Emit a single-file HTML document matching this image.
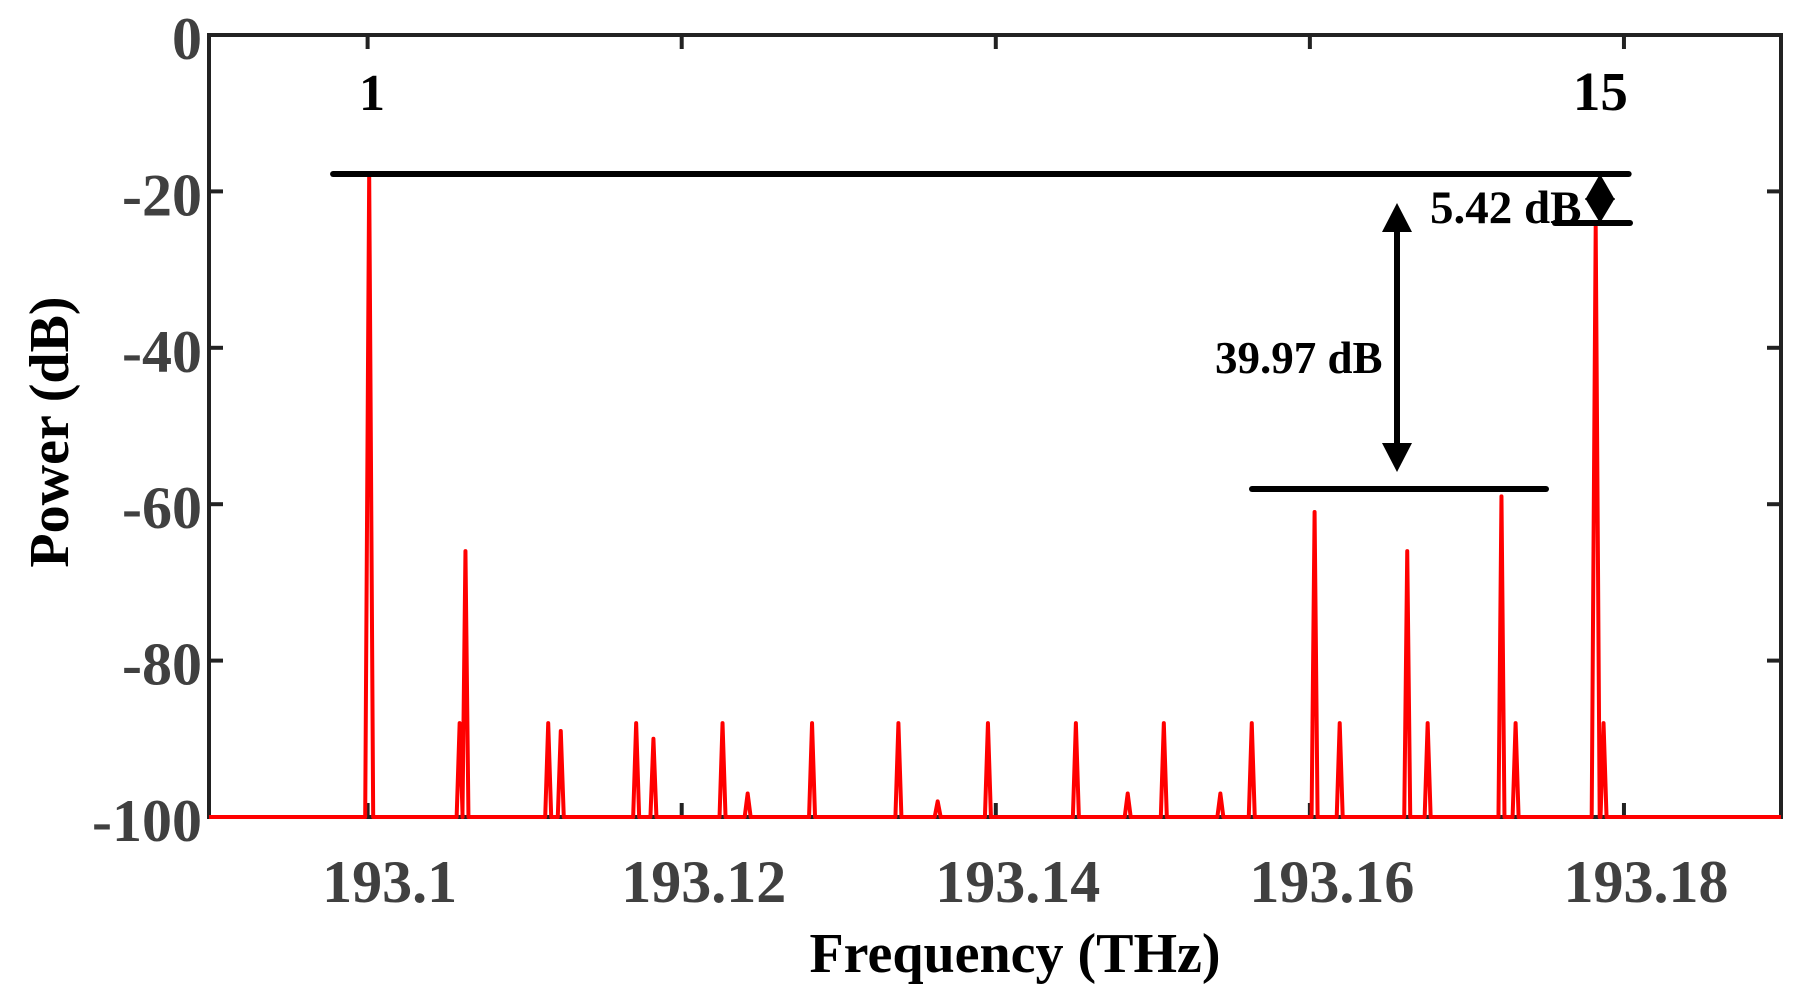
<!DOCTYPE html>
<html><head><meta charset="utf-8"><style>
html,body{margin:0;padding:0;background:#fff;}
svg{display:block;font-family:"Liberation Serif",serif;font-weight:bold;}
</style></head><body>
<svg id="chart" width="1805" height="1004" viewBox="0 0 1805 1004" xmlns="http://www.w3.org/2000/svg"></svg>
<script>
// data
const peakFreqs = [193.1001,193.10586,193.10623,193.1115,193.1123,193.1171,193.1182,193.1226,193.1242,193.1283,193.1303,193.1338,193.1363,193.1395,193.1451,193.1484,193.1507,193.1543,193.1563,193.1603,193.1619,193.1662,193.1675,193.1722,193.1731,193.1782,193.1787];
const peakPowers = [-17.9,-88,-66,-88,-89,-88,-90,-88,-97,-88,-100,-88,-98,-88,-88,-97,-88,-97,-88,-61,-88,-66,-88,-59,-88,-24.5,-88];
const xTicks = [193.1,193.12,193.14,193.16,193.18];
const xTickLabels = ["193.1","193.12","193.14","193.16","193.18"];
const yTicks = [0,-20,-40,-60,-80,-100];
const yTickLabels = ["0","-20","-40","-60","-80","-100"];

const NS="http://www.w3.org/2000/svg";
const svg=document.getElementById('chart');
const L=209,R=1781,T=35,B=817;
const xMin=193.0899,xMax=193.19,yMin=-100,yMax=0;
const xs=f=>L+(f-xMin)/(xMax-xMin)*(R-L);
const ys=v=>T+(yMax-v)/(yMax-yMin)*(B-T);
function mk(tag,attrs){const e=document.createElementNS(NS,tag);for(const k in attrs)e.setAttribute(k,attrs[k]);svg.appendChild(e);return e;}

// frame
let fr=mk('rect',{x:L,y:T,width:R-L,height:B-T,fill:'none',stroke:'#222',"stroke-width":4});



// ticks
xTicks.forEach((t,i)=>{
  const x=xs(t);
  let a=mk('line',{x1:x,y1:B,x2:x,y2:B-14,stroke:'#222',"stroke-width":4});
  
  
  let b=mk('line',{x1:x,y1:T,x2:x,y2:T+14,stroke:'#222',"stroke-width":4});
  
  
  let tx=mk('text',{x:x+22,y:902,"text-anchor":"middle","font-size":60,fill:'#404040'});
  tx.textContent=xTickLabels[i];
  
  
});
yTicks.forEach((t,i)=>{
  const y=ys(t);
  let a=mk('line',{x1:L,y1:y,x2:L+14,y2:y,stroke:'#222',"stroke-width":4});
  
  
  let b=mk('line',{x1:R,y1:y,x2:R-14,y2:y,stroke:'#222',"stroke-width":4});
  
  
  let tx=mk('text',{x:202,y:y+24,"text-anchor":"end","font-size":60,fill:'#404040'});
  tx.textContent=yTickLabels[i];
  
  
});

// spectrum
let d='M'+L+','+ys(-100);
const idx=peakFreqs.map((f,i)=>i).sort((a,b)=>peakFreqs[a]-peakFreqs[b]);
idx.forEach(i=>{
  const x=xs(peakFreqs[i]);
  const w=peakPowers[i]>-50?4:3;
  d+=' L'+(x-w)+','+ys(-100)+' L'+x+','+ys(peakPowers[i])+' L'+(x+w)+','+ys(-100);
});
d+=' L'+R+','+ys(-100);
let sp=mk('path',{d:d,fill:'none',stroke:'#ff0000',"stroke-width":4,"stroke-linejoin":"round"});



// annotations
function line(x1,y1,x2,y2,name){let l=mk('line',{x1:x1,y1:y1,x2:x2,y2:y2,stroke:'#000',"stroke-width":6,"stroke-linecap":"round"});return l;}
line(xs(193.0978),174,xs(193.1803),174,'reference-line-top');
line(1252,489,1546,489,'reference-line-sidebands');
line(1555,223,1630,223,'reference-line-carrier15');
// big arrow
line(1397,230,1397,445,'arrow-39-97-shaft');
let ah1=mk('polygon',{points:'1382,232 1412,232 1397,203',fill:'#000'});


let ah2=mk('polygon',{points:'1382,443 1412,443 1397,472',fill:'#000'});


// small arrow
let s1=mk('polygon',{points:'1585,200 1615,200 1600,174',fill:'#000'});


let s2=mk('polygon',{points:'1585,198 1615,198 1600,223',fill:'#000'});



function txt(x,y,s,size,name,anchor,fill){let t=mk('text',{x:x,y:y,"font-size":size,fill:fill||'#000',"text-anchor":anchor||'start'});t.textContent=s;return t;}
txt(1430,223,'5.42 dB',47,'annotation-5-42-db');
txt(1215,373,'39.97 dB',45,'annotation-39-97-db');
txt(372,110,'1',52,'channel-label-1','middle');
txt(xs(193.1785),110,'15',55,'channel-label-15','middle');

// axis titles
txt(1015,972,'Frequency (THz)',56,'x-axis-title','middle');
let yt=mk('text',{x:0,y:0,"font-size":56,fill:'#000',"text-anchor":'middle',transform:'translate(68,432) rotate(-90)'});
yt.textContent='Power (dB)';


</script>
</body></html>
